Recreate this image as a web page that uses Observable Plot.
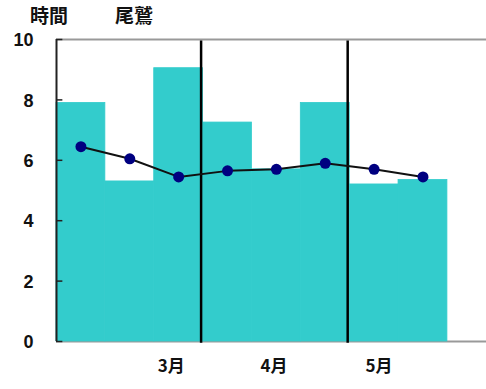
<!DOCTYPE html>
<html>
<head>
<meta charset="utf-8">
<script src="https://cdn.jsdelivr.net/npm/d3@7"></script>
<script src="https://cdn.jsdelivr.net/npm/@observablehq/plot@0.6"></script>
<style>
  html, body { margin: 0; padding: 0; background: #fff; }
  #chart { width: 486px; height: 389px; overflow: hidden; }
  .head { position: relative; height: 30px; font-family: "Noto Sans CJK JP", sans-serif; font-weight: bold; font-size: 19px; line-height: 30px; color: #111; }
  .head span { position: absolute; top: 0; }
  svg { display: block; }
</style>
</head>
<body>
<div id="chart">
  <div class="head"><span style="left:30px">時間</span><span style="left:115px">尾鷲</span></div>
</div>
<script>
// Sunshine duration by dekad (10-day period), Owase, March to mid May
const dekads = ["3月上旬", "3月中旬", "3月下旬", "4月上旬", "4月中旬", "4月下旬", "5月上旬", "5月中旬"];
const sunshine = [7.9, 5.3, 9.05, 7.25, 5.7, 7.9, 5.2, 5.35];
// Normal values
const normal = [6.45, 6.05, 5.45, 5.65, 5.7, 5.9, 5.7, 5.45];
// Month labels along the bottom and month boundaries (in dekad units)
const monthLabels = ["3月", "4月", "5月"];
const monthLabelPos = [2.35, 4.45, 6.6];
const monthBounds = [3, 6];
const yTicks = [0, 2, 4, 6, 8, 10];

const bars = dekads.map((d, i) => ({dekad: d, i, value: sunshine[i]}));
const points = dekads.map((d, i) => ({dekad: d, i, value: normal[i]}));
const months = monthLabels.map((m, k) => ({label: m, pos: monthLabelPos[k]}));

const chart = Plot.plot({
  width: 486,
  height: 359,
  marginLeft: 56,
  marginRight: 0,
  marginTop: 9,
  marginBottom: 48,
  style: {background: "white", fontFamily: "'Liberation Sans', Arial, sans-serif", color: "#111", overflow: "visible"},
  x: {domain: [0, 8.8], axis: null},
  y: {domain: [0, 10]},
  marks: [
    Plot.ruleY([0], {stroke: "#999", strokeWidth: 2}),
    Plot.ruleY([10], {stroke: "#999", strokeWidth: 2}),
    Plot.rect(bars, {x1: "i", x2: d => d.i + 1, y1: 0, y2: "value", fill: "#33CCCC", stroke: "#33CCCC", strokeWidth: 0.8}),
    Plot.ruleX(monthBounds, {y1: -0.06, y2: 9.95, dx: -2, stroke: "#000", strokeWidth: 2.5}),
    Plot.ruleX([0], {y1: 0, y2: 10, stroke: "#222", strokeWidth: 2}),
    Plot.ruleY(yTicks, {x1: 0, x2: 0.13, stroke: "#222", strokeWidth: 1.5}),
    Plot.axisY(yTicks, {tickSize: 0, tickPadding: 23, fontSize: 18, fontWeight: "bold", label: null, dy: 1}),
    Plot.line(points, {x: d => d.i + 0.5, y: "value", stroke: "#111", strokeWidth: 2}),
    Plot.dot(points, {x: d => d.i + 0.5, y: "value", r: 5.5, fill: "#000080"}),
    Plot.text(months, {x: "pos", text: "label", frameAnchor: "bottom", dy: 30, fontSize: 17, fontWeight: "bold", fontFamily: "'Noto Sans CJK JP', sans-serif", fill: "#111"})
  ]
});
document.getElementById("chart").appendChild(chart);
</script>
</body>
</html>
